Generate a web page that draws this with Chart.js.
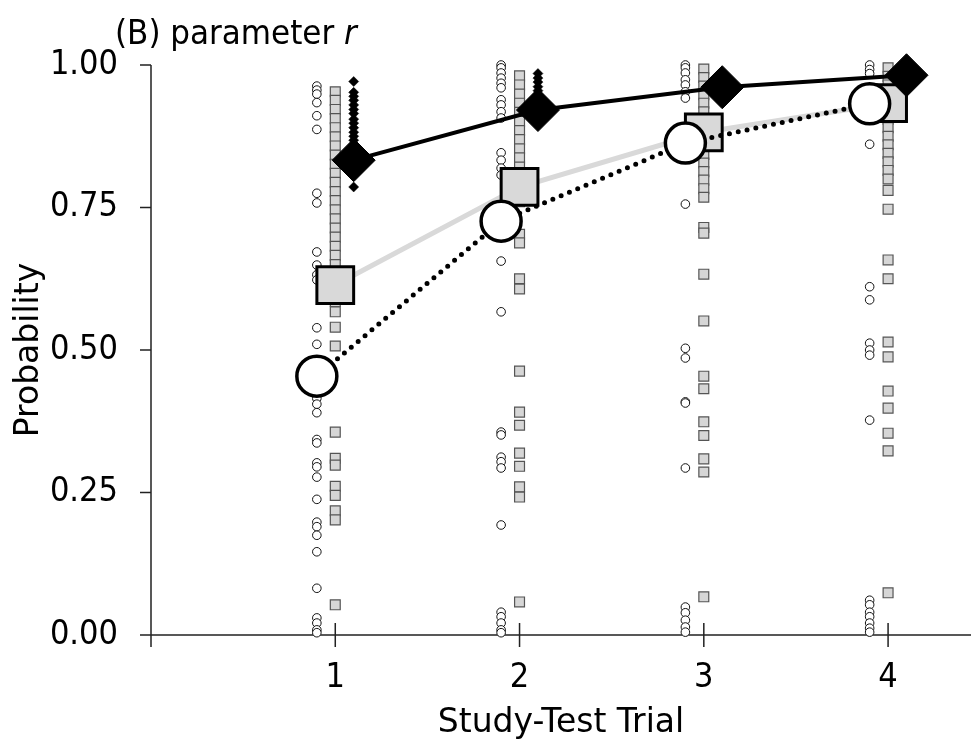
<!DOCTYPE html>
<html>
<head>
<meta charset="utf-8">
<script src="https://cdn.jsdelivr.net/npm/chart.js@4/dist/chart.umd.min.js"></script>
<style>
html,body{margin:0;padding:0;background:#fff;}
#wrap{position:relative;width:971px;height:744px;}
</style>
</head>
<body>
<div id="wrap"><canvas id="c" width="971" height="744"></canvas></div>
<script>
// ---- data ----
const trials = [1, 2, 3, 4];
const yTicks = [0, 0.25, 0.5, 0.75, 1];
const titleText = "(B) parameter ";
const titleItalic = "r";
const xTitle = "Study-Test Trial";
const yTitle = "Probability";

// group means
const meanCircle  = [0.454, 0.726, 0.863, 0.932];
const meanSquare  = [0.614, 0.786, 0.882, 0.933];
const meanDiamond = [0.833, 0.921, 0.961, 0.982];

// individual estimates – circles
const circ1 = [0.963, 0.956, 0.949, 0.934, 0.911, 0.887, 0.775, 0.758, 0.672, 0.649, 0.632, 0.623, 0.539, 0.510, 0.415, 0.405, 0.390, 0.343, 0.337, 0.302, 0.295, 0.277, 0.238, 0.198, 0.190, 0.175, 0.146, 0.082, 0.030, 0.021, 0.009, 0.004];
const circ2 = [1.000, 0.995, 0.986, 0.977, 0.968, 0.960, 0.939, 0.930, 0.918, 0.907, 0.846, 0.833, 0.819, 0.807, 0.656, 0.567, 0.356, 0.351, 0.312, 0.304, 0.293, 0.193, 0.040, 0.032, 0.021, 0.009, 0.004];
const circ3 = [1.000, 0.995, 0.986, 0.974, 0.965, 0.953, 0.942, 0.756, 0.503, 0.486, 0.409, 0.407, 0.293, 0.049, 0.039, 0.026, 0.014, 0.005];
const circ4 = [1.000, 0.992, 0.985, 0.861, 0.611, 0.588, 0.512, 0.500, 0.491, 0.377, 0.061, 0.053, 0.040, 0.032, 0.021, 0.012, 0.005];

// squares
const sq1 = [0.953, 0.938, 0.922, 0.906, 0.890, 0.874, 0.858, 0.842, 0.826, 0.810, 0.794, 0.778, 0.762, 0.746, 0.730, 0.714, 0.698, 0.682, 0.666, 0.650, 0.634, 0.618, 0.600, 0.585, 0.567, 0.540, 0.507, 0.356, 0.310, 0.298, 0.261, 0.245, 0.218, 0.202, 0.053];
const sq2 = [0.981, 0.965, 0.949, 0.933, 0.917, 0.901, 0.885, 0.869, 0.853, 0.837, 0.821, 0.805, 0.790, 0.775, 0.760, 0.703, 0.688, 0.625, 0.607, 0.463, 0.391, 0.368, 0.319, 0.296, 0.260, 0.242, 0.058];
const sq3 = [0.993, 0.978, 0.963, 0.948, 0.933, 0.918, 0.903, 0.888, 0.873, 0.858, 0.843, 0.828, 0.813, 0.798, 0.783, 0.768, 0.715, 0.705, 0.633, 0.551, 0.454, 0.432, 0.374, 0.350, 0.309, 0.286, 0.067];
const sq4 = [0.995, 0.980, 0.965, 0.950, 0.935, 0.920, 0.905, 0.890, 0.875, 0.860, 0.845, 0.830, 0.815, 0.800, 0.780, 0.747, 0.658, 0.625, 0.514, 0.488, 0.428, 0.398, 0.354, 0.323, 0.074];

// diamonds
const dia1 = [0.971, 0.952, 0.945, 0.938, 0.930, 0.922, 0.915, 0.905, 0.898, 0.890, 0.882, 0.875, 0.868, 0.860, 0.786];
const dia2 = [0.985, 0.977, 0.970, 0.962, 0.955, 0.948, 0.940];
const dia3 = [0.975, 0.968, 0.960, 0.955];
const dia4 = [0.995, 0.990, 0.985];

// ---- build ----
const FONT_C = "'DejaVu Sans Condensed', 'DejaVu Sans', sans-serif";
const FONT_W = "'DejaVu Sans', sans-serif";
const OFF = 0.1; // horizontal dodge between groups
const X_MAX = 4.45;

function pts(lists, dx) {
  const out = [];
  lists.forEach((arr, i) => arr.forEach(v => out.push({x: trials[i] + dx, y: v})));
  return out;
}
function meanPts(arr, dx) { return arr.map((v, i) => ({x: trials[i] + dx, y: v})); }

const datasets = [
  { // black line + big diamonds (top)
    data: meanPts(meanDiamond, OFF), showLine: true, borderColor: '#000', borderWidth: 4,
    pointStyle: 'rectRot', pointRadius: 21.5, pointBackgroundColor: '#000', pointBorderColor: '#000', pointBorderWidth: 1, clip: false
  },
  { // dotted line + big circles
    data: meanPts(meanCircle, -OFF), showLine: true, borderColor: '#000', borderWidth: 5,
    borderDash: [0, 9], borderCapStyle: 'round',
    pointStyle: 'circle', pointRadius: 20, pointBackgroundColor: '#fff', pointBorderColor: '#000', pointBorderWidth: 3.5, clip: false
  },
  { // grey line + big squares
    data: meanPts(meanSquare, 0), showLine: true, borderColor: '#d9d9d9', borderWidth: 5,
    pointStyle: 'rect', pointRadius: 26, pointBackgroundColor: '#d9d9d9', pointBorderColor: '#000', pointBorderWidth: 3, clip: false
  },
  {
    data: pts([dia1, dia2, dia3, dia4], OFF), showLine: false,
    pointStyle: 'rectRot', pointRadius: 5, pointBackgroundColor: '#000', pointBorderColor: '#000', pointBorderWidth: 0.5, clip: false
  },
  {
    data: pts([sq1, sq2, sq3, sq4], 0), showLine: false,
    pointStyle: 'rect', pointRadius: 7, pointBackgroundColor: '#d6d6d6', pointBorderColor: '#555', pointBorderWidth: 1.2, clip: false
  },
  {
    data: pts([circ1, circ2, circ3, circ4], -OFF), showLine: false,
    pointStyle: 'circle', pointRadius: 4.3, pointBackgroundColor: '#fff', pointBorderColor: '#111', pointBorderWidth: 1, clip: false
  }
];

const axesPlugin = {
  id: 'rAxes',
  afterLayout(chart) {
    // let the x scale run to the right edge of the canvas
    const x = chart.scales.x;
    x.right = chart.width;
    x.width = x.right - x.left;
    chart.chartArea.right = chart.width;
    chart.chartArea.width = chart.chartArea.right - chart.chartArea.left;
    x.configure();
  },
  beforeDatasetsDraw(chart) {
    const {ctx, scales: {x, y}} = chart;
    const x0 = x.getPixelForValue(0);
    const yb = y.getPixelForValue(0);
    const yt = y.getPixelForValue(1);
    ctx.save();
    ctx.strokeStyle = '#222';
    ctx.lineWidth = 1.5;
    ctx.beginPath();
    ctx.moveTo(x0, yt); ctx.lineTo(x0, yb + 12);
    ctx.moveTo(x0 - 11, yb); ctx.lineTo(chart.width, yb);
    yTicks.forEach(v => { const p = y.getPixelForValue(v); ctx.moveTo(x0 - 11, p); ctx.lineTo(x0, p); });
    trials.forEach(v => { const p = x.getPixelForValue(v); ctx.moveTo(p, yb - 12); ctx.lineTo(p, yb + 12); });
    ctx.stroke();
    ctx.restore();
  },
  afterDraw(chart) {
    const ctx = chart.ctx;
    ctx.save();
    ctx.fillStyle = '#000';
    ctx.textBaseline = 'alphabetic';
    ctx.font = '34.5px ' + FONT_C;
    ctx.fillText(titleText, 115, 44);
    const w = ctx.measureText(titleText).width;
    ctx.font = 'italic 34.5px ' + FONT_C;
    ctx.fillText(titleItalic, 115 + w, 44);
    ctx.restore();
  }
};

new Chart(document.getElementById('c'), {
  type: 'scatter',
  data: { datasets },
  options: {
    responsive: false,
    animation: false,
    layout: { padding: { top: 65, right: 0, left: 0, bottom: 0 } },
    plugins: { legend: { display: false }, tooltip: { enabled: false }, title: { display: false } },
    scales: {
      x: {
        type: 'linear', min: 0, max: X_MAX,
        afterBuildTicks: s => { s.ticks = trials.map(v => ({value: v})); },
        afterFit: s => { s.height = 109; s.paddingLeft = 0; s.paddingRight = 0; },
        grid: { display: false, drawTicks: false }, border: { display: false },
        ticks: { color: '#000', font: { family: FONT_C, size: 34 }, padding: 23, callback: v => String(v), maxRotation: 0 },
        title: { display: true, text: xTitle, color: '#000', font: { family: FONT_W, size: 33 }, padding: { top: 0, bottom: 1 } }
      },
      y: {
        type: 'linear', min: 0, max: 1,
        afterBuildTicks: s => { s.ticks = yTicks.map(v => ({value: v})); },
        afterFit: s => { s.width = 151; s.paddingTop = 0; s.paddingBottom = 0; },
        grid: { display: false, drawTicks: false }, border: { display: false },
        ticks: { color: '#000', font: { family: FONT_C, size: 34 }, padding: 33, callback: v => v.toFixed(2) },
        title: { display: true, text: yTitle, color: '#000', font: { family: FONT_W, size: 33 }, padding: { top: 10, bottom: 6 } }
      }
    }
  },
  plugins: [axesPlugin]
});
</script>
</body>
</html>
